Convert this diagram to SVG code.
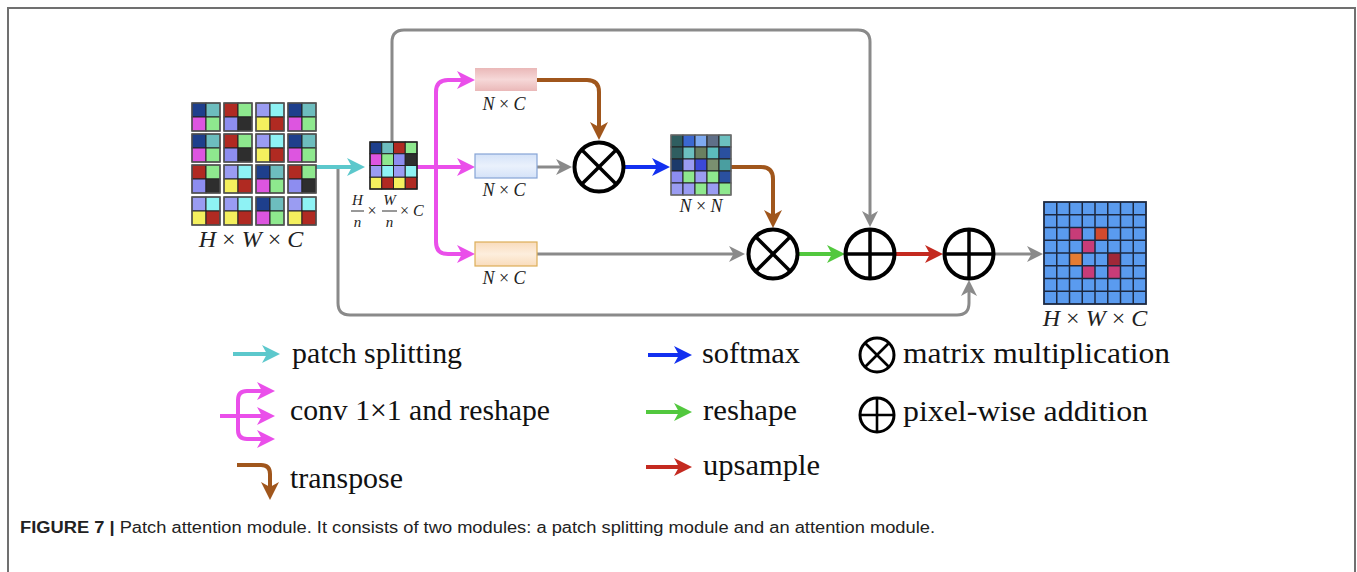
<svg xmlns="http://www.w3.org/2000/svg" width="1357" height="572" viewBox="0 0 1357 572">
<style>
.conn{fill:none;stroke-linecap:butt;stroke-linejoin:round}
.gray{stroke:#8a8a8a;stroke-width:3}
.cyan{stroke:#5cc8cc;stroke-width:4}
.pink{stroke:#ea4fea;stroke-width:4}
.brown{stroke:#a0561c;stroke-width:4}
.blue{stroke:#1230f0;stroke-width:4}
.green{stroke:#52c83e;stroke-width:4}
.red{stroke:#c42a20;stroke-width:4}
.op{fill:#fff;stroke:#000;stroke-width:4}
.opl{stroke:#000;stroke-width:3.5}
.lop{fill:#fff;stroke:#000;stroke-width:3}
.lopl{stroke:#000;stroke-width:2.6}
.cell{stroke:#222;stroke-width:1}
.math{font-family:"Liberation Serif",serif;font-style:italic;fill:#222}
.leg{font-family:"Liberation Serif",serif;font-size:30px;fill:#111}
.cap{font-family:"Liberation Sans",Arial,sans-serif;font-size:16px;fill:#222}
</style>
<defs>
<marker id="mCyan" viewBox="0 0 18 18" refX="8" refY="9" markerWidth="18" markerHeight="18" markerUnits="userSpaceOnUse" orient="auto"><path d="M0,0 L18,9 L0,18 L5,9 Z" fill="#5cc8cc"/></marker>
<marker id="mPink" viewBox="0 0 18 18" refX="8" refY="9" markerWidth="18" markerHeight="18" markerUnits="userSpaceOnUse" orient="auto"><path d="M0,0 L18,9 L0,18 L5,9 Z" fill="#ea4fea"/></marker>
<marker id="mBrown" viewBox="0 0 18 18" refX="8" refY="9" markerWidth="18" markerHeight="18" markerUnits="userSpaceOnUse" orient="auto"><path d="M0,0 L18,9 L0,18 L5,9 Z" fill="#a0561c"/></marker>
<marker id="mBlue" viewBox="0 0 18 18" refX="8" refY="9" markerWidth="18" markerHeight="18" markerUnits="userSpaceOnUse" orient="auto"><path d="M0,0 L18,9 L0,18 L5,9 Z" fill="#1230f0"/></marker>
<marker id="mGreen" viewBox="0 0 18 18" refX="8" refY="9" markerWidth="18" markerHeight="18" markerUnits="userSpaceOnUse" orient="auto"><path d="M0,0 L18,9 L0,18 L5,9 Z" fill="#52c83e"/></marker>
<marker id="mRed" viewBox="0 0 18 18" refX="8" refY="9" markerWidth="18" markerHeight="18" markerUnits="userSpaceOnUse" orient="auto"><path d="M0,0 L18,9 L0,18 L5,9 Z" fill="#c42a20"/></marker>
<marker id="mGray" viewBox="0 0 16 16" refX="8" refY="8" markerWidth="16" markerHeight="16" markerUnits="userSpaceOnUse" orient="auto"><path d="M0,0 L16,8 L0,16 L4.5,8 Z" fill="#8a8a8a"/></marker>
<linearGradient id="gPink" x1="0" y1="0" x2="0" y2="1"><stop offset="0" stop-color="#eab8b8"/><stop offset="0.5" stop-color="#f6d8d8"/><stop offset="1" stop-color="#eab8b8"/></linearGradient>
<linearGradient id="gBlue" x1="0" y1="0" x2="0" y2="1"><stop offset="0" stop-color="#d4e2f8"/><stop offset="0.5" stop-color="#eaf1fc"/><stop offset="1" stop-color="#d4e2f8"/></linearGradient>
<linearGradient id="gPeach" x1="0" y1="0" x2="0" y2="1"><stop offset="0" stop-color="#f9dcbc"/><stop offset="0.5" stop-color="#fdeedd"/><stop offset="1" stop-color="#f9dcbc"/></linearGradient>
<g id="pA"><rect class="cell" x="0" y="0" width="14" height="14" fill="#1e3f8c"/><rect class="cell" x="14" y="0" width="14" height="14" fill="#6dbdbe"/><rect class="cell" x="0" y="14" width="14" height="14" fill="#dd55e0"/><rect class="cell" x="14" y="14" width="14" height="14" fill="#8ee88e"/><rect x="0" y="0" width="28" height="28" fill="none" stroke="#555" stroke-width="1.4"/></g>
<g id="pB"><rect class="cell" x="0" y="0" width="14" height="14" fill="#b02a22"/><rect class="cell" x="14" y="0" width="14" height="14" fill="#8ee88e"/><rect class="cell" x="0" y="14" width="14" height="14" fill="#8d8df0"/><rect class="cell" x="14" y="14" width="14" height="14" fill="#2e2e2e"/><rect x="0" y="0" width="28" height="28" fill="none" stroke="#555" stroke-width="1.4"/></g>
<g id="pC"><rect class="cell" x="0" y="0" width="14" height="14" fill="#9a9cf2"/><rect class="cell" x="14" y="0" width="14" height="14" fill="#8ef2f4"/><rect class="cell" x="0" y="14" width="14" height="14" fill="#f4f05e"/><rect class="cell" x="14" y="14" width="14" height="14" fill="#b02a22"/><rect x="0" y="0" width="28" height="28" fill="none" stroke="#555" stroke-width="1.4"/></g>
</defs>
<rect x="0" y="0" width="1357" height="572" fill="#fff"/>
<path d="M8,572 V8 H1355 V572" fill="none" stroke="#707070" stroke-width="2"/>

<g id="connectors">
<path class="conn gray" d="M392,142 V42 Q392,30 404,30 H858 Q870,30 870,42 V219" marker-end="url(#mGray)"/>
<path class="conn gray" d="M338,167 V303 Q338,315 350,315 H957 Q969,315 969,303 V288" marker-end="url(#mGray)"/>
<path class="conn cyan" d="M316,167 H355" marker-end="url(#mCyan)"/>
<path class="conn pink" d="M417,167 H465" marker-end="url(#mPink)"/>
<path class="conn pink" d="M436,167 V92 Q436,80 448,80 H465" marker-end="url(#mPink)"/>
<path class="conn pink" d="M436,167 V242 Q436,254 448,254 H465" marker-end="url(#mPink)"/>
<path class="conn brown" d="M537,80 H587 Q599,80 599,92 V130" marker-end="url(#mBrown)"/>
<path class="conn gray" d="M537,167 H564" marker-end="url(#mGray)"/>
<path class="conn blue" d="M624,167 H660" marker-end="url(#mBlue)"/>
<path class="conn brown" d="M731,167 H761 Q773,167 773,179 V218" marker-end="url(#mBrown)"/>
<path class="conn gray" d="M537,254 H737" marker-end="url(#mGray)"/>
<path class="conn green" d="M798,254 H835" marker-end="url(#mGreen)"/>
<path class="conn red" d="M895,254 H933" marker-end="url(#mRed)"/>
<path class="conn gray" d="M994,254 H1035" marker-end="url(#mGray)"/>
</g>

<g id="input">
<use href="#pA" x="192" y="103"/><use href="#pB" x="224" y="103"/><use href="#pC" x="256" y="103"/><use href="#pA" x="288" y="103"/>
<use href="#pA" x="192" y="134"/><use href="#pB" x="224" y="134"/><use href="#pC" x="256" y="134"/><use href="#pA" x="288" y="134"/>
<use href="#pB" x="192" y="165"/><use href="#pC" x="224" y="165"/><use href="#pA" x="256" y="165"/><use href="#pB" x="288" y="165"/>
<use href="#pC" x="192" y="197"/><use href="#pC" x="224" y="197"/><use href="#pA" x="256" y="197"/><use href="#pC" x="288" y="197"/>
<text class="math" x="251" y="247" font-size="24" text-anchor="middle">H <tspan font-style="normal">×</tspan> W <tspan font-style="normal">×</tspan> C</text>
</g>

<g id="patches">
<rect class="cell" x="370" y="142" width="11.75" height="11.75" fill="#1e3f8c"/><rect class="cell" x="381.75" y="142" width="11.75" height="11.75" fill="#6dbdbe"/><rect class="cell" x="393.5" y="142" width="11.75" height="11.75" fill="#b02a22"/><rect class="cell" x="405.25" y="142" width="11.75" height="11.75" fill="#8ee88e"/>
<rect class="cell" x="370" y="153.75" width="11.75" height="11.75" fill="#dd55e0"/><rect class="cell" x="381.75" y="153.75" width="11.75" height="11.75" fill="#8ee88e"/><rect class="cell" x="393.5" y="153.75" width="11.75" height="11.75" fill="#8d8df0"/><rect class="cell" x="405.25" y="153.75" width="11.75" height="11.75" fill="#2e2e2e"/>
<rect class="cell" x="370" y="165.5" width="11.75" height="11.75" fill="#9a9cf2"/><rect class="cell" x="381.75" y="165.5" width="11.75" height="11.75" fill="#8ef2f4"/><rect class="cell" x="393.5" y="165.5" width="11.75" height="11.75" fill="#9a9cf2"/><rect class="cell" x="405.25" y="165.5" width="11.75" height="11.75" fill="#8ef2f4"/>
<rect class="cell" x="370" y="177.25" width="11.75" height="11.75" fill="#f4f05e"/><rect class="cell" x="381.75" y="177.25" width="11.75" height="11.75" fill="#b02a22"/><rect class="cell" x="393.5" y="177.25" width="11.75" height="11.75" fill="#f4f05e"/><rect class="cell" x="405.25" y="177.25" width="11.75" height="11.75" fill="#b02a22"/>
<rect x="370" y="142" width="47" height="47" fill="none" stroke="#222" stroke-width="1.4"/>
<text class="math" x="357.5" y="205" font-size="15" text-anchor="middle">H</text>
<line x1="351" y1="211" x2="364" y2="211" stroke="#333" stroke-width="1"/>
<text class="math" x="357.5" y="227" font-size="15" text-anchor="middle">n</text>
<text class="math" x="372" y="216" font-size="16" font-style="normal" text-anchor="middle">×</text>
<text class="math" x="389.5" y="205" font-size="15" text-anchor="middle">W</text>
<line x1="382" y1="211" x2="397" y2="211" stroke="#333" stroke-width="1"/>
<text class="math" x="389.5" y="227" font-size="15" text-anchor="middle">n</text>
<text class="math" x="400" y="216" font-size="16"><tspan font-style="normal">×</tspan> C</text>
</g>

<g id="key">
<rect x="475" y="68" width="62" height="23" fill="url(#gPink)"/>
<text class="math" x="504" y="110" font-size="18" text-anchor="middle">N <tspan font-style="normal">×</tspan> C</text>
</g>
<g id="query">
<rect x="475" y="154" width="62" height="24" fill="url(#gBlue)" stroke="#86a4d6" stroke-width="1.2"/>
<text class="math" x="504" y="196" font-size="18" text-anchor="middle">N <tspan font-style="normal">×</tspan> C</text>
</g>
<g id="value">
<rect x="475" y="242" width="62" height="24" fill="url(#gPeach)" stroke="#dcae58" stroke-width="1.2"/>
<text class="math" x="504" y="284" font-size="18" text-anchor="middle">N <tspan font-style="normal">×</tspan> C</text>
</g>

<g id="mul1">
<circle class="op" cx="599" cy="167" r="24.5"/>
<line class="opl" x1="581.7" y1="149.7" x2="616.3" y2="184.3"/><line class="opl" x1="616.3" y1="149.7" x2="581.7" y2="184.3"/>
</g>

<g id="attention">
<rect class="cell" x="671" y="135" width="12" height="12" fill="#2f5e60"/><rect class="cell" x="683" y="135" width="12" height="12" fill="#3b68d0"/><rect class="cell" x="695" y="135" width="12" height="12" fill="#7eaaf0"/><rect class="cell" x="707" y="135" width="12" height="12" fill="#5f6f88"/><rect class="cell" x="719" y="135" width="12" height="12" fill="#6cc0c0"/>
<rect class="cell" x="671" y="147" width="12" height="12" fill="#2f5e60"/><rect class="cell" x="683" y="147" width="12" height="12" fill="#6cc0c0"/><rect class="cell" x="695" y="147" width="12" height="12" fill="#6a8060"/><rect class="cell" x="707" y="147" width="12" height="12" fill="#5cbcbc"/><rect class="cell" x="719" y="147" width="12" height="12" fill="#2a50a0"/>
<rect class="cell" x="671" y="159" width="12" height="12" fill="#1b3a6a"/><rect class="cell" x="683" y="159" width="12" height="12" fill="#9a9cf2"/><rect class="cell" x="695" y="159" width="12" height="12" fill="#3b48d8"/><rect class="cell" x="707" y="159" width="12" height="12" fill="#7a9070"/><rect class="cell" x="719" y="159" width="12" height="12" fill="#4a9ea0"/>
<rect class="cell" x="671" y="171" width="12" height="12" fill="#8d8df0"/><rect class="cell" x="683" y="171" width="12" height="12" fill="#8ee88e"/><rect class="cell" x="695" y="171" width="12" height="12" fill="#9a9cf2"/><rect class="cell" x="707" y="171" width="12" height="12" fill="#8ee88e"/><rect class="cell" x="719" y="171" width="12" height="12" fill="#2a50a0"/>
<rect class="cell" x="671" y="183" width="12" height="12" fill="#9a9cf2"/><rect class="cell" x="683" y="183" width="12" height="12" fill="#9a9cf2"/><rect class="cell" x="695" y="183" width="12" height="12" fill="#8ee88e"/><rect class="cell" x="707" y="183" width="12" height="12" fill="#9a9cf2"/><rect class="cell" x="719" y="183" width="12" height="12" fill="#8ee88e"/>
<rect x="671" y="135" width="60" height="60" fill="none" stroke="#777" stroke-width="1.2"/>
<text class="math" x="701" y="212" font-size="18" text-anchor="middle">N <tspan font-style="normal">×</tspan> N</text>
</g>

<g id="mul2">
<circle class="op" cx="773" cy="254" r="24.5"/>
<line class="opl" x1="755.7" y1="236.7" x2="790.3" y2="271.3"/><line class="opl" x1="790.3" y1="236.7" x2="755.7" y2="271.3"/>
</g>
<g id="add1">
<circle class="op" cx="870" cy="254" r="24.5"/>
<line class="opl" x1="845.5" y1="254" x2="894.5" y2="254"/><line class="opl" x1="870" y1="229.5" x2="870" y2="278.5"/>
</g>
<g id="add2">
<circle class="op" cx="969" cy="254" r="24.5"/>
<line class="opl" x1="944.5" y1="254" x2="993.5" y2="254"/><line class="opl" x1="969" y1="229.5" x2="969" y2="278.5"/>
</g>

<g id="output">
<rect x="1044" y="202" width="102" height="102" fill="#5a9bef"/>
<rect x="1069.5" y="227.5" width="12.75" height="12.75" fill="#c83c78"/>
<rect x="1095" y="227.5" width="12.75" height="12.75" fill="#d24a2e"/>
<rect x="1082.25" y="240.25" width="12.75" height="12.75" fill="#c83c78"/>
<rect x="1069.5" y="253" width="12.75" height="12.75" fill="#e47c34"/>
<rect x="1107.75" y="253" width="12.75" height="12.75" fill="#a02838"/>
<rect x="1082.25" y="265.75" width="12.75" height="12.75" fill="#c83c78"/>
<rect x="1107.75" y="265.75" width="12.75" height="12.75" fill="#c83c78"/>
<path d="M1056.75,202 V304 M1069.5,202 V304 M1082.25,202 V304 M1095,202 V304 M1107.75,202 V304 M1120.5,202 V304 M1133.25,202 V304 M1044,214.75 H1146 M1044,227.5 H1146 M1044,240.25 H1146 M1044,253 H1146 M1044,265.75 H1146 M1044,278.5 H1146 M1044,291.25 H1146" stroke="#1c2840" stroke-width="1.5" fill="none"/>
<rect x="1044" y="202" width="102" height="102" fill="none" stroke="#1c2840" stroke-width="1.8"/>
<text class="math" x="1095" y="326" font-size="24" text-anchor="middle">H <tspan font-style="normal">×</tspan> W <tspan font-style="normal">×</tspan> C</text>
</g>

<g id="legend">
<path class="conn cyan" d="M233,354 H270" marker-end="url(#mCyan)"/>
<text class="leg" x="292" y="363" textLength="170" lengthAdjust="spacingAndGlyphs">patch splitting</text>
<path class="conn pink" d="M220,416 H265" marker-end="url(#mPink)"/>
<path class="conn pink" d="M238,416 V400 Q238,391 247,391 H265" marker-end="url(#mPink)"/>
<path class="conn pink" d="M238,416 V430 Q238,439 247,439 H265" marker-end="url(#mPink)"/>
<text class="leg" x="290" y="420" textLength="260" lengthAdjust="spacingAndGlyphs">conv 1×1 and reshape</text>
<path class="conn brown" d="M237,465 H261 Q270,465 270,474 V490" marker-end="url(#mBrown)"/>
<text class="leg" x="290" y="488" textLength="113" lengthAdjust="spacingAndGlyphs">transpose</text>
<path class="conn blue" d="M648,355 H682" marker-end="url(#mBlue)"/>
<text class="leg" x="702" y="363" textLength="98" lengthAdjust="spacingAndGlyphs">softmax</text>
<path class="conn green" d="M646,412 H682" marker-end="url(#mGreen)"/>
<text class="leg" x="703" y="420" textLength="94" lengthAdjust="spacingAndGlyphs">reshape</text>
<path class="conn red" d="M646,467 H682" marker-end="url(#mRed)"/>
<text class="leg" x="703" y="475" textLength="117" lengthAdjust="spacingAndGlyphs">upsample</text>
<circle class="lop" cx="877" cy="355" r="17"/>
<line class="lopl" x1="865" y1="343" x2="889" y2="367"/><line class="lopl" x1="889" y1="343" x2="865" y2="367"/>
<text class="leg" x="903" y="363" textLength="267" lengthAdjust="spacingAndGlyphs">matrix multiplication</text>
<circle class="lop" cx="877" cy="415" r="17"/>
<line class="lopl" x1="860" y1="415" x2="894" y2="415"/><line class="lopl" x1="877" y1="398" x2="877" y2="432"/>
<text class="leg" x="903" y="421" textLength="245" lengthAdjust="spacingAndGlyphs">pixel-wise addition</text>
</g>

<text class="cap" x="20" y="533" textLength="915" lengthAdjust="spacingAndGlyphs"><tspan font-weight="bold">FIGURE 7 |</tspan> Patch attention module. It consists of two modules: a patch splitting module and an attention module.</text>
</svg>
